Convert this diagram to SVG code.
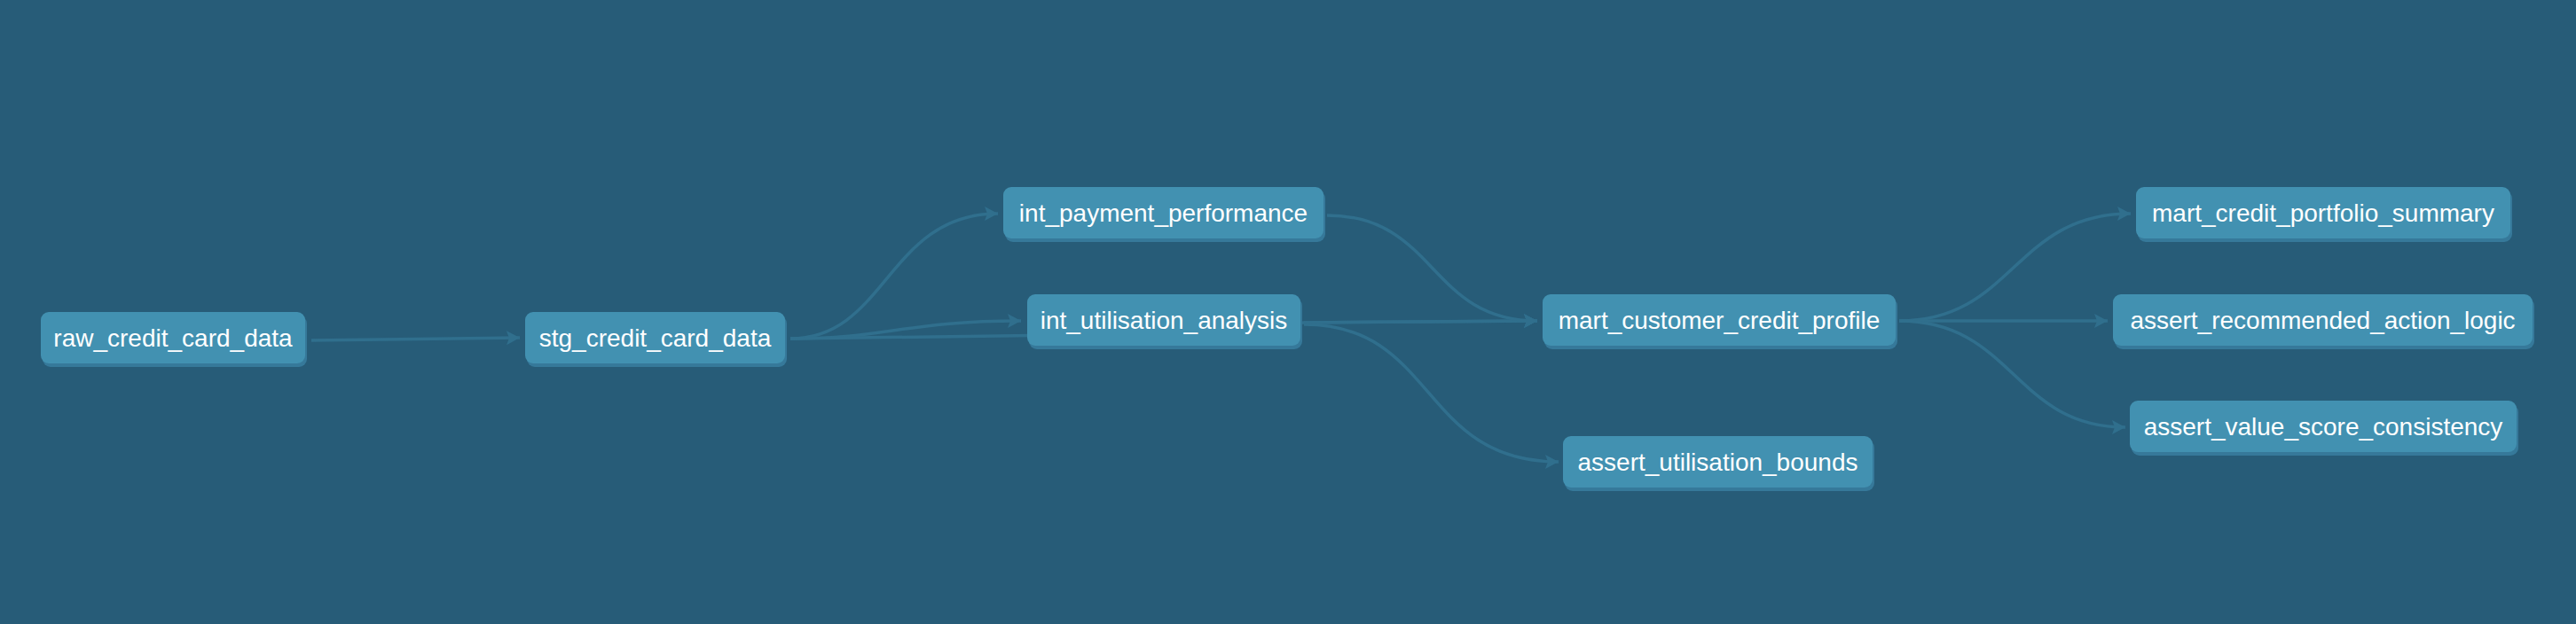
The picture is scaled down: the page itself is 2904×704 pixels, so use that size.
<svg xmlns="http://www.w3.org/2000/svg" width="2904" height="704" viewBox="0 0 2904 704">
<defs>
<style>
.edge{fill:none;stroke:#306f8d;stroke-width:3.5}
.node rect.bg{fill:#36799a}
.node rect.fg{fill:#4291b1}
.node text{font-family:"Liberation Sans",Arial,sans-serif;font-size:28px;fill:#ffffff;text-anchor:middle}
</style>
<marker id="arr" markerUnits="userSpaceOnUse" markerWidth="18" markerHeight="18" refX="15" refY="8" orient="auto">
<path d="M0,0 L15,8 L0,16 L3,8 z" fill="#306f8d"/>
</marker>
</defs>
<rect x="0" y="0" width="2904" height="704" fill="#275c78"/>
<g id="connectors">
<path class="edge" d="M351,384 L586,381" marker-end="url(#arr)"/>
<path class="edge" d="M891,382 C1000,382 1000,241 1125,241" marker-end="url(#arr)"/>
<path class="edge" d="M891,382 C1000,382 1020,362 1151,362" marker-end="url(#arr)"/>
<path class="edge" d="M891,382 L1200,378 L1470,364 L1733,362" marker-end="url(#arr)"/>
<path class="edge" d="M1470,364 L1733,362" marker-end="url(#arr)"/>
<path class="edge" d="M1470,366 C1620,366 1600,521 1757,521" marker-end="url(#arr)"/>
<path class="edge" d="M1496,243 C1620,243 1610,362 1733,362" marker-end="url(#arr)"/>
<path class="edge" d="M2141,362 C2270,362 2270,241 2402,241" marker-end="url(#arr)"/>
<path class="edge" d="M2141,362 L2376,362" marker-end="url(#arr)"/>
<path class="edge" d="M2141,362 C2270,362 2270,482 2396,482" marker-end="url(#arr)"/>
</g>
<g id="raw_credit_card_data" class="node">
<rect class="bg" x="48" y="356" width="298" height="58" rx="9"/>
<rect class="fg" x="46" y="352" width="298" height="58" rx="9"/>
<text x="195" y="391">raw_credit_card_data</text>
</g>
<g id="stg_credit_card_data" class="node">
<rect class="bg" x="594" y="356" width="293" height="58" rx="9"/>
<rect class="fg" x="592" y="352" width="293" height="58" rx="9"/>
<text x="738.5" y="391">stg_credit_card_data</text>
</g>
<g id="int_payment_performance" class="node">
<rect class="bg" x="1133" y="215" width="361" height="58" rx="9"/>
<rect class="fg" x="1131" y="211" width="361" height="58" rx="9"/>
<text x="1311.5" y="250">int_payment_performance</text>
</g>
<g id="int_utilisation_analysis" class="node">
<rect class="bg" x="1160" y="336" width="308" height="58" rx="9"/>
<rect class="fg" x="1158" y="332" width="308" height="58" rx="9"/>
<text x="1312" y="371">int_utilisation_analysis</text>
</g>
<g id="mart_customer_credit_profile" class="node">
<rect class="bg" x="1741" y="336" width="398" height="58" rx="9"/>
<rect class="fg" x="1739" y="332" width="398" height="58" rx="9"/>
<text x="1938" y="371">mart_customer_credit_profile</text>
</g>
<g id="assert_utilisation_bounds" class="node">
<rect class="bg" x="1764" y="496" width="349" height="58" rx="9"/>
<rect class="fg" x="1762" y="492" width="349" height="58" rx="9"/>
<text x="1936.5" y="531">assert_utilisation_bounds</text>
</g>
<g id="mart_credit_portfolio_summary" class="node">
<rect class="bg" x="2410" y="215" width="422" height="58" rx="9"/>
<rect class="fg" x="2408" y="211" width="422" height="58" rx="9"/>
<text x="2619" y="250">mart_credit_portfolio_summary</text>
</g>
<g id="assert_recommended_action_logic" class="node">
<rect class="bg" x="2384" y="336" width="473" height="58" rx="9"/>
<rect class="fg" x="2382" y="332" width="473" height="58" rx="9"/>
<text x="2618.5" y="371">assert_recommended_action_logic</text>
</g>
<g id="assert_value_score_consistency" class="node">
<rect class="bg" x="2403" y="456" width="436" height="58" rx="9"/>
<rect class="fg" x="2401" y="452" width="436" height="58" rx="9"/>
<text x="2619" y="491">assert_value_score_consistency</text>
</g>
</svg>
